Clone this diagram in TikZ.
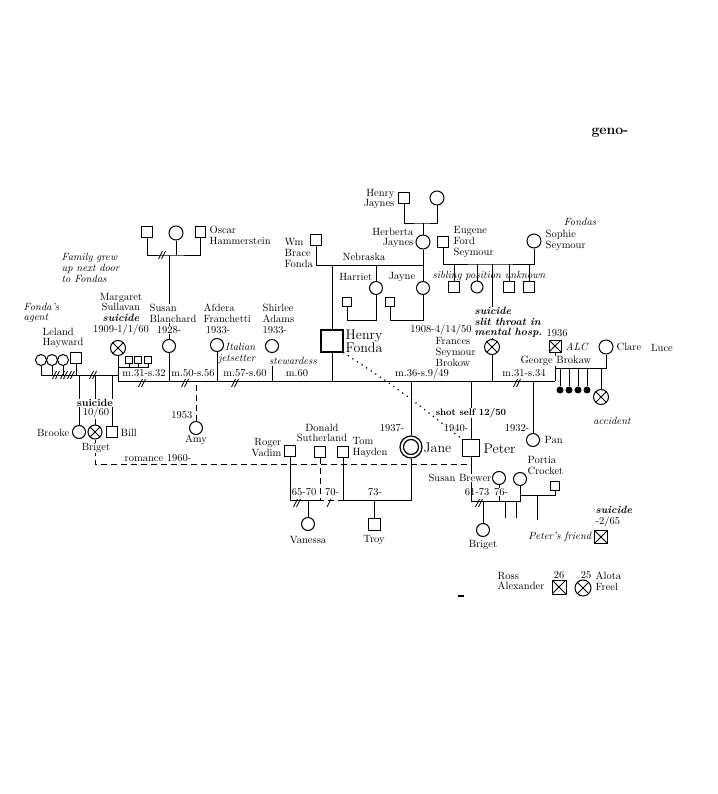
\documentclass[tikz,border=0pt]{standalone}
\usepackage{fontspec}
\usetikzlibrary{calc}
\newcommand\gfont{\fontsize{10.5}{10.8}\selectfont}
\newcommand\dslash[2]{\draw[line width=0.8pt] (#1,#2) ++(-3.5,4) -- ++(4,-8) ++(-1,8) -- ++(4,-8);}
\newcommand\sslash[2]{\draw[line width=0.8pt] (#1,#2) ++(-2,4) -- ++(4,-8);}
\tikzset{
  ln/.style={line width=0.9pt},
  sq/.style={draw, rectangle, minimum size=11pt, inner sep=0pt, line width=1pt},
  ci/.style={draw, circle, minimum size=13pt, inner sep=0pt, line width=1pt},
  xmark/.style={path picture={\draw[line width=0.8pt] (path picture bounding box.south west) -- (path picture bounding box.north east) (path picture bounding box.north west) -- (path picture bounding box.south east);}},
  dotnode/.style={circle, fill, inner sep=0pt, minimum size=7pt},
  lab/.style={inner sep=0.5pt, align=center, font=\gfont},
  it/.style={font=\gfont\itshape},
  bd/.style={font=\gfont\bfseries},
  bi/.style={font=\gfont\bfseries\itshape},
  big/.style={font=\fontsize{14}{13}\selectfont},
  dsh/.style={dash pattern=on 6pt off 4pt},
  dotline/.style={line width=1.7pt, line cap=round, dash pattern=on 0pt off 5.5pt},
}
\begin{document}
\begin{tikzpicture}[x=1pt,y=-1pt]
\useasboundingbox (0,0) rectangle (717,794);
\fill[white] (0,0) rectangle (717,794);

% ---------- shapes ----------
\node[sq] (HJ) at (404,198) {};
\node[ci, minimum size=14pt] (HJw) at (437,198) {};
\node[ci, minimum size=14pt] (HB) at (423,242) {};
\node[sq] (WBF) at (316,240) {};
\node[sq, minimum size=22pt, line width=1.4pt] (HF) at (332,341) {};
\node[ci] (HA) at (376,288) {};
\node[ci] (JA) at (423,288) {};
\node[sq, minimum size=9pt] (HAh) at (347,302) {};
\node[sq, minimum size=9pt] (JAh) at (390,302) {};
\node[sq] (ES) at (443,242) {};
\node[ci, minimum size=14pt] (SS) at (534,241) {};
\node[sq] (S1) at (454,287) {};
\node[ci, minimum size=12pt] (S2) at (477,287) {};
\node[sq] (S3) at (509,287) {};
\node[sq] (S4) at (529,287) {};
\node[ci, minimum size=15pt, xmark] (FS) at (492,347) {};
\node[sq, minimum size=12pt, xmark] (GB) at (555,346) {};
\node[ci, minimum size=14pt] (CL) at (606,347) {};
\node[dotnode] (D1) at (560,390) {};
\node[dotnode] (D2) at (569,390) {};
\node[dotnode] (D3) at (578,390) {};
\node[dotnode] (D4) at (587,390) {};
\node[ci, minimum size=15pt, xmark] (AC) at (601,397) {};
\node[ci] (PN) at (533,440) {};

\node[sq] (P1) at (147,232) {};
\node[ci, minimum size=14pt] (P2) at (176,233) {};
\node[sq, minimum size=10pt] (P3) at (200,232) {};
\node[ci, minimum size=11pt] (W1) at (41,360) {};
\node[ci, minimum size=11pt] (W2) at (52,360) {};
\node[ci, minimum size=11pt] (W3) at (63,360) {};
\node[sq] (LH) at (76,358) {};
\node[ci, minimum size=15pt, xmark] (MS) at (118,348) {};
\node[sq, minimum size=7pt] (MQ1) at (129,360) {};
\node[sq, minimum size=7pt] (MQ2) at (138,360) {};
\node[sq, minimum size=7pt] (MQ3) at (148,360) {};
\node[ci] (SB) at (169,346) {};
\node[ci] (AF) at (217,345) {};
\node[ci] (SA) at (272,346) {};
\node[ci] (AM) at (196,428) {};
\node[ci] (BR) at (79,432) {};
\node[ci, minimum size=14pt, xmark] (BG) at (95,432) {};
\node[sq] (BL) at (112,432) {};

\node[circle, draw, line width=1.2pt, minimum size=22pt, inner sep=0pt] (JN) at (411,447) {};
\node[circle, draw, line width=1.2pt, minimum size=15pt, inner sep=0pt] (JNi) at (411,447) {};
\node[sq, minimum size=17pt, line width=1.3pt] (PT) at (471,448) {};
\node[sq] (RV) at (290,451) {};
\node[sq] (DS) at (320,452) {};
\node[sq] (TH) at (343,452) {};
\node[ci] (VN) at (308,524) {};
\node[sq, minimum size=12pt] (TR) at (374,524) {};
\node[ci] (SBr) at (499,478) {};
\node[ci] (PC) at (520,479) {};
\node[sq, minimum size=9pt] (PFh) at (555,486) {};
\node[ci] (BP) at (483,530) {};
\node[sq, minimum size=13pt, xmark] (PFr) at (601,537) {};
\node[sq, minimum size=14pt, xmark] (RA) at (559,587) {};
\node[ci, minimum size=16pt, xmark] (AF2) at (583,588) {};

% ---------- coordinates ----------
\coordinate (hjm) at (423,223);
\coordinate (fm) at (423,265);
\coordinate (hm1) at (376,320);
\coordinate (hm2) at (423,320);
\coordinate (sm) at (492,264);
\coordinate (sbm) at (169,255);
\coordinate (ll) at (118,375);
\coordinate (mq) at (118,367);
\coordinate (mlL) at (118,381);
\coordinate (mlR) at (555,381);
\coordinate (gl) at (555,368);
\coordinate (sas) at (272,366);
\coordinate (rom) at (471,464);
\coordinate (jl1) at (320,500);
\coordinate (jl2) at (343,500);
\coordinate (pl1) at (471,501);
\coordinate (pl2) at (520,501);
\coordinate (pfl) at (520,495);
\coordinate (k1) at (505,518);
\coordinate (k2) at (516,518);
\coordinate (k3) at (537,520);
\coordinate (m1) at (458,596);
\coordinate (m2) at (464,596);

% ---------- connectors ----------
\begin{scope}[ln]
\draw (HJ.south) |- (hjm) -| (HJw.south);
\draw (hjm) -- (HB.north);
\draw (WBF.south) |- (fm) -- (HB.south);
\draw (HF.north) -- (HF.north |- fm);
\draw (HA.north) -- (HA.north |- fm);
\draw (JA.north) -- (JA.north |- fm);
\draw (HAh.south) |- (hm1) -- (HA.south);
\draw (JAh.south) |- (hm2) -- (JA.south);
\draw (ES.south) |- (sm) -| (SS.south);
\foreach \n in {S1,S2,S3,S4} \draw (\n.north) -- (\n.north |- sm);
\draw (sm) -- (FS.north);
\draw (FS.south) -- (FS.south |- mlL);
\draw (HF.south) -- (HF.south |- mlL);
\draw (mlL) -- (mlR);
\draw (GB.south) -- (mlR);
\draw (gl) -| (CL.south);
\foreach \n in {D1,D2,D3,D4,AC} \draw (\n.north) -- (\n.north |- gl);
\draw (PN.north) -- (PN.north |- mlR);

\draw (P1.south) |- (sbm) -| (P3.south);
\draw (P2.south) -- (P2.south |- sbm);
\draw (sbm) -- (SB.north);
\foreach \n in {W1,W2,W3,LH} \draw (\n.south) -- (\n.south |- ll);
\draw (W1.south |- ll) -- (ll);
\draw (MS.south) -- (mlL);
\draw (MQ3.south) |- (mq);
\draw (MQ1.south) -- (MQ1.south |- mq);
\draw (MQ2.south) -- (MQ2.south |- mq);
\draw (SB.south) -- (SB.south |- mlL);
\draw (AF.south) -- (AF.south |- mlL);
\draw (sas) -- (sas |- mlL);
\draw[dsh] (AM.north) -- (AM.north |- mlL);
\foreach \n in {BR,BG,BL} \draw (\n.north) -- (\n.north |- ll);
\draw[dsh] (BG.south) |- (rom);

\draw (JN.north) -- (JN.north |- mlL);
\draw (PT.north) -- (PT.north |- mlL);
\draw (RV.south) |- (jl1);
\draw[dsh] (DS.south) -- (jl1) -- (jl2);
\draw (TH.south) -- (jl2) -| (JN.south);
\draw (VN.north) -- (VN.north |- jl1);
\draw (TR.north) -- (TR.north |- jl1);

\draw (PT.south) -- (pl1) -- (pl2) -- (PC.south);
\draw (SBr.south) -- (SBr.south |- pl1);
\draw (BP.north) -- (BP.north |- pl1);
\draw (k1) -- (k1 |- pl1);
\draw (k2) -- (k2 |- pl1);
\draw (k3) -- (k3 |- pfl);
\draw (pfl) -| (PFh.south);
\end{scope}
\draw[line width=1.5pt] (m1) -- (m2);

\draw[dotline] (HF.south east) .. controls (400,390) .. (PT.north west);

% divorce marks
\dslash{56}{375}\dslash{64}{375}\dslash{71}{375}\dslash{93}{375}
\dslash{142}{383}\dslash{185}{383}\dslash{235}{383}\dslash{517}{383}
\dslash{162}{255}
\dslash{297}{503}\sslash{329}{503}
\dslash{479}{503}

% ---------- labels ----------
\node[lab, font=\fontsize{14}{14}\bfseries\selectfont] (tgeno) at (610,133) {geno-};
\node[lab, align=right, anchor=east] (tHJ) at (395,199) {Henry\\Jaynes};
\node[lab, align=right, anchor=east] (tHB) at (414,238) {Herberta\\Jaynes};
\node[lab, align=left, anchor=west] (tWBF) at (284,253) {Wm\\Brace\\Fonda};
\node[lab] (tNeb) at (364,257) {Nebraska};
\node[lab, anchor=east] (tHar) at (373,277) {Harriet};
\node[lab] (tJay) at (402,277) {Jayne};
\node[lab, big, align=left, anchor=west] (tHF) at (345,341) {Henry\\Fonda};
\node[lab] (tFd) at (441,330) {1908-4/14/50};
\node[lab, align=left, anchor=west] (tFS) at (435,352) {Frances\\Seymour\\Brokow};
\node[lab, align=left, anchor=west] (tES) at (453,242) {Eugene\\Ford\\Seymour};
\node[lab, align=left, anchor=west] (tSS) at (545,240.5) {Sophie\\Seymour};
\node[lab, it] (tFon) at (580,222) {Fondas};
\node[lab, it] (tsib) at (489,276) {sibling position unknown};
\node[lab, bi, align=left, anchor=west, fill=white] (tFsu) at (474,322.5) {suicide\\slit throat in\\mental hosp.};
\node[lab] (t1936) at (557,333) {1936};
\node[lab, it, anchor=west] (tALC) at (565,347) {ALC};
\node[lab, fill=white] (tGB) at (556,361) {George Brokaw};
\node[lab, anchor=west] (tCl) at (616,347) {Clare};
\node[lab] (tLuce) at (662,348) {Luce};
\node[lab, it] (tacc) at (612,421) {accident};
\node[lab, anchor=east] (tPan1) at (530,428) {1932-};
\node[lab, anchor=west] (tPan) at (544,440) {Pan};
\node[lab] (tm3134) at (524,373) {m.31-s.34};
\node[lab] (tm36) at (422,374) {m.36-s.9/49};

\node[lab, align=left, anchor=west] (tOH) at (209,235) {Oscar\\Hammerstein};
\node[lab, it, align=left, anchor=west] (tfam) at (61,268) {Family grew\\up next door\\to Fondas};
\node[lab, it, align=left, anchor=west] (tagent) at (23,313) {Fonda's\\agent};
\node[lab, align=left, anchor=west] (tLH) at (42,338) {Leland\\Hayward};
\node[lab] (tMS) at (121,314) {Margaret\\Sullavan\\\textbf{\textit{suicide}}\\1909-1/1/60};
\node[lab, align=left, anchor=west, fill=white] (tSB) at (149,313.5) {Susan\\Blanchard};
\node[lab, fill=white] (tSB2) at (169,330) {1928-};
\node[lab, align=left, anchor=west] (tAF) at (203,313.5) {Afdera\\Franchetti};
\node[lab] (tAF2) at (218,330) {1933-};
\node[lab, it, align=right, anchor=east] (tital) at (256,353.5) {Italian\\jetsetter};
\node[lab, align=left, anchor=west] (tSA) at (262,318.7) {Shirlee\\Adams\\1933-};
\node[lab, it] (tstew) at (293,361) {stewardess};
\node[lab] (tm1) at (144,373) {m.31-s.32};
\node[lab] (tm2) at (193,373) {m.50-s.56};
\node[lab] (tm3) at (245,373) {m.57-s.60};
\node[lab] (tm4) at (297,373) {m.60};
\node[lab, bd, fill=white] (tsu1) at (95,403) {suicide};
\node[lab, fill=white] (tsu2) at (96,413) {10/60};
\node[lab, anchor=east] (tBR) at (70,433) {Brooke};
\node[lab, anchor=west] (tBL) at (120,433) {Bill};
\node[lab, fill=white] (tBG) at (96,448) {Briget};
\node[lab] (trom) at (158,458) {romance 1960-};
\node[lab, anchor=east] (tAM1) at (193,415) {1953};
\node[lab] (tAM) at (196,440) {Amy};

\node[lab, big, anchor=west] (tJN) at (423,448) {Jane};
\node[lab, anchor=east] (tJN1) at (405,428) {1937-};
\node[lab, big, anchor=west] (tPT) at (483,449) {Peter};
\node[lab, anchor=east] (tPT1) at (469,428) {1940-};
\node[lab, font=\fontsize{9.5}{10}\bfseries\selectfont, fill=white] (tshot) at (471,413) {shot self 12/50};
\node[lab, align=right, anchor=east] (tRV) at (282,447.5) {Roger\\Vadim};
\node[lab] (tDS) at (322,433) {Donald\\Sutherland};
\node[lab, align=left, anchor=west] (tTH) at (352,447.5) {Tom\\Hayden};
\node[lab] (t6570) at (304,492) {65-70};
\node[lab] (t70) at (332,492) {70-};
\node[lab] (t73) at (375,492) {73-};
\node[lab] (tVN) at (308,540) {Vanessa};
\node[lab] (tTR) at (374,540) {Troy};

\node[lab, anchor=east, fill=white] (tSBr) at (492,478) {Susan Brewer};
\node[lab, align=left, anchor=west] (tPC) at (527,465.5) {Portia\\Crocket};
\node[lab] (t6173) at (477,492) {61-73};
\node[lab, fill=white] (t76) at (501,492) {76-};
\node[lab] (tBP) at (483,545) {Briget};
\node[lab, align=left, anchor=west] (tPFs) at (595,516.5) {\textbf{\textit{suicide}}\\-2/65};
\node[lab, it, anchor=east] (tPFr) at (592,537) {Peter's friend};

\node[lab, align=left, anchor=west] (tRA) at (497,581) {Ross\\Alexander};
\node[lab] (t26) at (559,575) {26};
\node[lab] (t25) at (586,575) {25};
\node[lab, align=left, anchor=west] (tAF3) at (595,581) {Alota\\Freel};
\end{tikzpicture}
\end{document}
